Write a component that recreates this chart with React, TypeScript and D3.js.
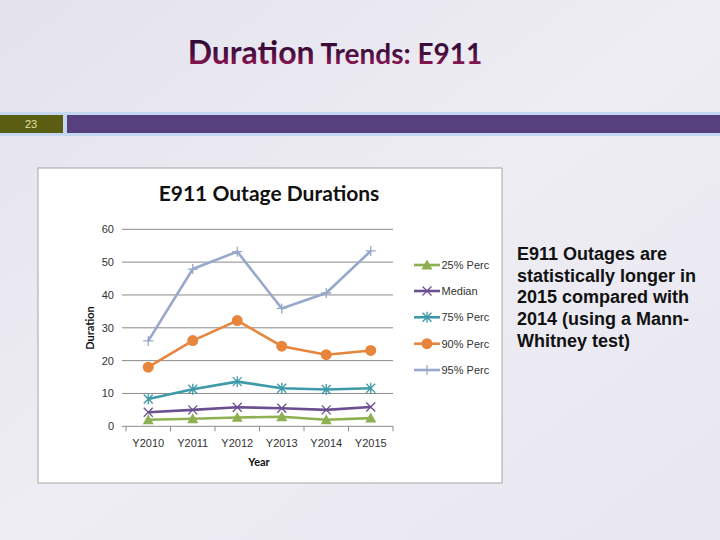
import React from "react";
import * as d3 from "d3";

const categories = ["Y2010", "Y2011", "Y2012", "Y2013", "Y2014", "Y2015"];
const p25 = [2.0, 2.3, 2.7, 2.9, 2.0, 2.5];
const median = [4.3, 5.0, 5.8, 5.5, 5.0, 5.9];
const p75 = [8.3, 11.3, 13.6, 11.6, 11.2, 11.6];
const p90 = [18.0, 26.1, 32.2, 24.4, 21.8, 23.1];
const p95 = [26.0, 47.9, 53.2, 35.9, 40.6, 53.4];
const yTicks = [0, 10, 20, 30, 40, 50, 60];
const seriesNames = ["25% Perc", "Median", "75% Perc", "90% Perc", "95% Perc"];
const seriesColors = ["#8db050", "#6c4f90", "#3e9aa9", "#e8853d", "#97a8ca"];
const seriesMarkers = ["triangle", "x", "star", "circle", "plus"];
const seriesData = [p25, median, p75, p90, p95];
const noteLines = [
  "E911 Outages are",
  "statistically longer in",
  "2015 compared with",
  "2014 (using a Mann-",
  "Whitney test)",
];

function Marker({ type, x, y, color }: { type: string; x: number; y: number; color: string }) {
  if (type === "triangle") {
    const s = 5.5;
    return <path d={`M${x},${y - s} L${x + s},${y + s * 0.8} L${x - s},${y + s * 0.8} Z`} fill={color} />;
  }
  if (type === "x") {
    const s = 4.5;
    return <path d={`M${x - s},${y - s}L${x + s},${y + s}M${x - s},${y + s}L${x + s},${y - s}`} stroke={color} strokeWidth={1.3} />;
  }
  if (type === "star") {
    const s = 4.5;
    return (
      <path
        d={`M${x - s},${y - s}L${x + s},${y + s}M${x - s},${y + s}L${x + s},${y - s}M${x},${y - s - 1}L${x},${y + s + 1}`}
        stroke={color}
        strokeWidth={1.3}
      />
    );
  }
  if (type === "circle") {
    return <circle cx={x} cy={y} r={5.5} fill={color} />;
  }
  const s = 5;
  return <path d={`M${x - s},${y}L${x + s},${y}M${x},${y - s}L${x},${y + s}`} stroke={color} strokeWidth={1.3} />;
}

export default function App() {
  const x = d3.scaleBand<string>().domain(categories).range([126, 393]);
  const y = d3.scaleLinear().domain([0, 60]).range([426.3, 229.3]);
  const line = d3
    .line<number>()
    .x((_, i) => (x(categories[i]) as number) + x.bandwidth() / 2)
    .y((d) => y(d));
  const boundaries = categories.map((c) => x(c) as number).concat([x.range()[1]]);
  const legendY = [265, 291, 317.3, 343.7, 370];

  return (
    <svg
      width={720}
      height={540}
      style={{ position: "absolute", left: 0, top: 0 }}
      xmlns="http://www.w3.org/2000/svg"
    >
      <defs>
        <linearGradient id="bg" x1="0" y1="0" x2="1" y2="1">
          <stop offset="0" stopColor="#e4e3ec" />
          <stop offset="0.5" stopColor="#eeedf4" />
          <stop offset="1" stopColor="#e8e7f0" />
        </linearGradient>
        <linearGradient id="titleGrad" x1="0" y1="0" x2="0" y2="1">
          <stop offset="0" stopColor="#1e0830" />
          <stop offset="0.55" stopColor="#4a0e40" />
          <stop offset="1" stopColor="#b01a5e" />
        </linearGradient>
      </defs>
      <rect x={0} y={0} width={720} height={540} fill="url(#bg)" />

      {/* Slide title */}
      <text
        x={335}
        y={64}
        textAnchor="middle"
        fontFamily="Lato, 'Open Sans', sans-serif"
        fontWeight="bold"
        fill="url(#titleGrad)"
      >
        <tspan fontSize={32}>Duration</tspan>
        <tspan fontSize={28}> Trends: E911</tspan>
      </text>

      {/* Header bar */}
      <rect x={0} y={112} width={720} height={24} fill="#c4d6f0" />
      <rect x={0} y={115} width={63} height={18} fill="#5b5d12" />
      <rect x={67} y={115} width={653} height={18} fill="#56407e" />
      <text x={31} y={128} textAnchor="middle" fontFamily="'Liberation Sans', Arial, sans-serif" fontSize={11} fill="#e6e0a6">
        23
      </text>

      {/* Chart frame */}
      <rect x={38} y={168} width={464} height={315} fill="#ffffff" stroke="#a6a6a6" strokeWidth={1} />
      <text x={269} y={201} textAnchor="middle" fontFamily="Lato, 'Open Sans', sans-serif" fontWeight="bold" fontSize={21} fill="#111">
        E911 Outage Durations
      </text>

      {/* Gridlines */}
      {yTicks.map((t) => (
        <g key={t}>
          <line x1={122} x2={393} y1={y(t)} y2={y(t)} stroke="#8a8a8a" strokeWidth={1} />
          <text
            x={114}
            y={y(t) + 4}
            textAnchor="end"
            fontFamily="'Liberation Sans', Arial, sans-serif"
            fontSize={11}
            fill="#333"
          >
            {t}
          </text>
        </g>
      ))}
      {boundaries.map((b, i) => (
        <line key={i} x1={b} x2={b} y1={y(0)} y2={y(0) + 5} stroke="#8a8a8a" />
      ))}
      {categories.map((c) => (
        <text
          key={c}
          x={(x(c) as number) + x.bandwidth() / 2}
          y={447}
          textAnchor="middle"
          fontFamily="'Liberation Sans', Arial, sans-serif"
          fontSize={11}
          fill="#333"
        >
          {c}
        </text>
      ))}
      <text x={259} y={466} textAnchor="middle" fontFamily="Lato, 'Open Sans', sans-serif" fontWeight="bold" fontSize={11} fill="#111">
        Year
      </text>
      <text
        transform={`translate(94,328) rotate(-90)`}
        textAnchor="middle"
        fontFamily="Lato, 'Open Sans', sans-serif"
        fontWeight="bold"
        fontSize={11}
        fill="#111"
      >
        Duration
      </text>

      {/* Series */}
      {seriesData.map((data, si) => (
        <g key={si}>
          <path d={line(data) || ""} fill="none" stroke={seriesColors[si]} strokeWidth={2.6} strokeLinejoin="round" />
          {data.map((v, i) => (
            <Marker
              key={i}
              type={seriesMarkers[si]}
              x={(x(categories[i]) as number) + x.bandwidth() / 2}
              y={y(v)}
              color={seriesColors[si]}
            />
          ))}
        </g>
      ))}

      {/* Legend */}
      {seriesNames.map((n, i) => (
        <g key={n}>
          <line x1={414} x2={440} y1={legendY[i]} y2={legendY[i]} stroke={seriesColors[i]} strokeWidth={2.6} />
          <Marker type={seriesMarkers[i]} x={427} y={legendY[i]} color={seriesColors[i]} />
          <text x={441.5} y={legendY[i] + 4} fontFamily="'Liberation Sans', Arial, sans-serif" fontSize={11} fill="#333">
            {n}
          </text>
        </g>
      ))}

      {/* Note text */}
      {noteLines.map((l, i) => (
        <text
          key={i}
          x={517}
          y={260 + i * 21.7}
          fontFamily="'Liberation Sans', Arial, sans-serif"
          fontWeight="bold"
          fontSize={18}
          fill="#111"
        >
          {l}
        </text>
      ))}
    </svg>
  );
}
